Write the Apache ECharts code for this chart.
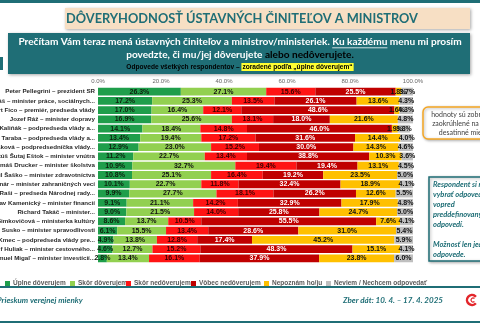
<!DOCTYPE html>
<html><head><meta charset="utf-8">
<script src="https://cdn.jsdelivr.net/npm/echarts@6/dist/echarts.min.js"></script>
<style>html,body{margin:0;padding:0;background:#fff}#c{width:480px;height:323px}</style>
</head><body><div id="c"></div>
<script>
var categories = [
 "Peter Pellegrini – prezident SR",
 "Erik Tomáš – minister práce, sociálnych...",
 "Robert Fico – premiér, predseda vlády",
 "Jozef Ráž – minister dopravy",
 "Robert Kaliňák – podpredseda vlády a...",
 "Tomáš Taraba – podpredseda vlády a...",
 "Denisa Saková – podpredsedníčka vlády...",
 "Matúš Šutaj Eštok – minister vnútra",
 "Tomáš Drucker – minister školstva",
 "Kamil Šaško – minister zdravotníctva",
 "Juraj Blanár – minister zahraničných vecí",
 "Richard Raši – predseda Národnej rady...",
 "Ladislav Kamenický – minister financií",
 "Richard Takáč – minister...",
 "Martina Šimkovičová – ministerka kultúry",
 "Boris Susko – minister spravodlivosti",
 "Peter Kmec – podpredseda vlády pre...",
 "Rudolf Huliak – minister cestovného...",
 "Samuel Migaľ – minister investícií..."
];
var seriesNames = ["Úplne dôverujem","Skôr dôverujem","Skôr nedôverujem","Vôbec nedôverujem","Nepoznám ho/ju","Neviem / Nechcem odpovedať"];
var uplneDoverujem   = [26.3,17.2,17.0,16.9,14.1,13.4,12.9,11.2,10.9,10.8,10.1,9.9,9.1,9.0,8.6,6.1,4.9,4.6,2.8];
var skorDoverujem    = [27.1,25.3,16.4,25.6,18.4,19.4,23.0,22.7,32.7,25.1,22.7,27.7,21.1,21.5,13.7,15.5,13.8,12.7,13.4];
var skorNedoverujem  = [15.6,13.5,12.1,13.1,14.8,17.2,15.2,13.4,19.4,16.4,11.8,18.1,14.2,14.0,10.5,13.4,12.8,15.2,16.1];
var vobecNedoverujem = [25.5,26.1,48.6,18.0,46.0,31.6,30.0,38.8,19.4,19.2,32.4,26.2,32.9,25.8,55.5,28.6,17.4,48.3,37.9];
var nepoznam         = [1.8,13.6,1.6,21.6,1.9,14.4,14.3,10.3,13.1,23.5,18.9,12.6,17.9,24.7,7.6,31.0,45.2,15.1,23.8];
var neviem           = [3.7,4.3,4.3,4.8,3.8,4.0,4.6,3.6,4.5,5.0,4.1,5.5,4.8,5.0,4.1,5.4,5.9,4.1,6.0];
var xTicks = [0,20,40,60,80,100];

var colors = ["#1f9e4b","#92d050","#ff1414","#c00000","#ffc000","#bfbfbf"];
var labelColors = ["#0d1f0d","#111","#3a0000","#fff","#111","#111"];
var allData = [uplneDoverujem,skorDoverujem,skorNedoverujem,vobecNedoverujem,nepoznam,neviem];
var TEAL = "#1f6e76";
var arial = "'Liberation Sans',Arial,sans-serif";

var series = seriesNames.map(function(n,i){
  return {
    name:n, type:'bar', stack:'t', data:allData[i], barCategoryGap:'16%',
    itemStyle:{color:colors[i]},
    label:{show:true, position:'inside', formatter:function(p){return p.value.toFixed(1)+'%';},
      color:labelColors[i], fontSize:7, fontWeight:'bold', fontFamily:arial}
  };
});

var legendLefts = [0,65,121,186,259,321];
var legends = seriesNames.map(function(n,i){
  return {data:[n], left:legendLefts[i], top:275, itemWidth:5, itemHeight:5, itemGap:3,
    icon:'rect', textStyle:{fontSize:6.5, color:'#595959', fontWeight:'bold', fontFamily:arial, padding:[0,0,0,-2]}};
});

var line1Pre = 'Prečítam Vám teraz mená ústavných činiteľov a ministrov/ministeriek. ';
var line1U = 'Ku každému';
var line1Post = ' menu mi prosím';
var f1 = "bold 10.1px Lato, sans-serif";
var cv = document.createElement('canvas').getContext('2d');
cv.font = f1;
var wPre = cv.measureText(line1Pre).width, wU = cv.measureText(line1U).width, wAll = cv.measureText(line1Pre+line1U+line1Post).width;
var uStart = 240 - wAll/2 + wPre;

var chart = echarts.init(document.getElementById('c'));
chart.setOption({
  animation:false,
  color:colors,
  grid:{left:98, right:67, top:87, bottom:60, containLabel:false, outerBoundsMode:'none'},
  legend:legends,
  xAxis:{type:'value', position:'top', min:0, max:100, interval:20,
    axisLine:{show:false}, axisTick:{show:false}, splitLine:{show:false},
    axisLabel:{fontSize:6, color:'#666', margin:3, formatter:function(v){return v.toFixed(1)+'%';}}},
  yAxis:{type:'category', data:categories, inverse:true,
    axisLine:{show:false}, axisTick:{show:false},
    axisLabel:{fontSize:6.2, fontWeight:'bold', color:'#2a2a2a', fontFamily:arial, margin:3}},
  series:series,
  graphic:[
    {type:'rect', shape:{x:0,y:0,width:480,height:3}, style:{fill:TEAL}},
    {type:'rect', shape:{x:65,y:8,width:405,height:21}, style:{fill:'#f7dfc4', shadowBlur:3, shadowColor:'rgba(0,0,0,0.35)', shadowOffsetX:1, shadowOffsetY:1}},
    {type:'text', style:{text:'DÔVERYHODNOSŤ ÚSTAVNÝCH ČINITEĽOV A MINISTROV', x:242, y:19, align:'center', verticalAlign:'middle', font:"bold 12.8px Lato, 'Open Sans', sans-serif", fill:TEAL}},
    {type:'rect', shape:{x:8,y:33,width:462,height:41}, style:{fill:TEAL, shadowBlur:3, shadowColor:'rgba(0,0,0,0.35)', shadowOffsetX:1, shadowOffsetY:1}},
    {type:'rect', shape:{x:0,y:57,width:3,height:13}, style:{fill:TEAL}},
    {type:'text', style:{text:line1Pre+line1U+line1Post, x:240, y:42, align:'center', verticalAlign:'middle', font:f1, fill:'#fff'}},
    {type:'line', shape:{x1:uStart,y1:47.8,x2:uStart+wU,y2:47.8}, style:{stroke:'#fff', lineWidth:0.8}},
    {type:'text', style:{text:'povedzte, či mu/jej dôverujete {b|alebo nedôverujete.}', x:240, y:54.5, align:'center', verticalAlign:'middle', font:f1, fill:'#fff',
      rich:{b:{fill:'#000', font:f1}}}},
    {type:'text', style:{text:'Odpovede všetkých respondentov – {h|zoradené podľa „úplne dôverujem“}', x:240, y:67, align:'center', verticalAlign:'middle', font:"bold 6.6px "+arial, fill:'#000',
      rich:{h:{fill:'#000', font:"bold 6.6px "+arial, backgroundColor:'#ffff33', padding:[1,1,0,1]}}}},
    {type:'rect', shape:{x:423,y:107,width:70,height:32,r:5}, style:{fill:'#fff', stroke:'#f5a623', lineWidth:1.5, shadowBlur:3, shadowColor:'rgba(0,0,0,0.3)', shadowOffsetX:1, shadowOffsetY:1}},
    {type:'text', style:{text:'hodnoty sú zobrazené\nzaokrúhlené na jedno\ndesatinné miesto', x:465, y:110, align:'center', verticalAlign:'top', lineHeight:9, font:"7px Lato, sans-serif", fill:'#404040'}},
    {type:'rect', shape:{x:429,y:177,width:60,height:84}, style:{fill:'#fff', stroke:TEAL, lineWidth:1.5, shadowBlur:3, shadowColor:'rgba(0,0,0,0.3)', shadowOffsetX:1, shadowOffsetY:1}},
    {type:'text', style:{text:'Respondent si mohol\nvybrať odpoveď z\nvopred\npreddefinovaných\nodpovedí.\n\nMožnosť len jednej\nodpovede.', x:433, y:180, align:'left', verticalAlign:'top', lineHeight:10, font:"italic bold 7.5px Lato, sans-serif", fill:TEAL}},
    {type:'rect', shape:{x:0,y:286,width:480,height:2}, style:{fill:TEAL}},
    {type:'text', style:{text:'Prieskum verejnej mienky', x:-3, y:300, align:'left', verticalAlign:'middle', font:"italic bold 8px Lato, sans-serif", fill:TEAL}},
    {type:'text', style:{text:'Zber dát: 10. 4. – 17. 4. 2025', x:343, y:300, align:'left', verticalAlign:'middle', font:"italic bold 8px Lato, sans-serif", fill:TEAL}},
    {type:'arc', shape:{cx:472,cy:300,r:5,startAngle:0.7,endAngle:5.6}, style:{stroke:'#e3262b', lineWidth:2.5, fill:null}},
    {type:'arc', shape:{cx:473,cy:300,r:2,startAngle:0.8,endAngle:5.5}, style:{stroke:'#e3262b', lineWidth:1.2, fill:null}},
    {type:'rect', shape:{x:0,y:321,width:480,height:2}, style:{fill:TEAL}}
  ]
});
</script></body></html>
